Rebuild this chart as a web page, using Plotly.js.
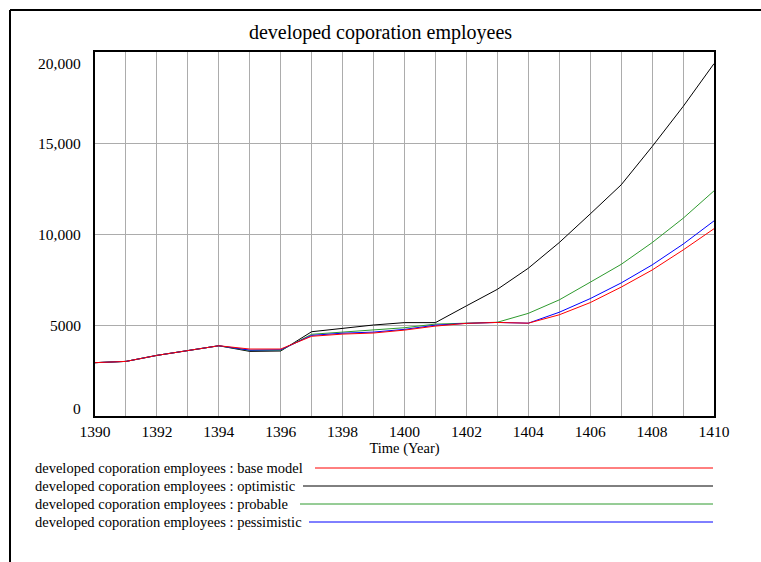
<!DOCTYPE html>
<html>
<head>
<meta charset="utf-8">
<script src="https://cdn.plot.ly/plotly-3.0.1.min.js"></script>
<style>html,body{margin:0;padding:0;background:#fff;}#chart{width:761px;height:562px;}</style>
</head>
<body>
<div id="chart"></div>
<script>
// ---- data ----
const years = [1390,1391,1392,1393,1394,1395,1396,1397,1398,1399,1400,1401,1402,1403,1404,1405,1406,1407,1408,1409,1410];
const baseModel   = [2930,3000,3330,3610,3860,3680,3680,4380,4500,4560,4720,4940,5090,5140,5100,5560,6230,7080,8020,9120,10290];
const optimistic  = [2930,3000,3330,3610,3860,3550,3570,4630,4820,5000,5130,5130,6050,6960,8120,9530,11100,12700,14800,17000,19360];
const probable    = [2930,3000,3330,3610,3860,3600,3610,4490,4600,4720,4850,5050,5120,5150,5640,6380,7350,8330,9525,10860,12370];
const pessimistic = [2930,3000,3330,3610,3860,3620,3640,4430,4550,4610,4760,4990,5090,5140,5100,5700,6450,7310,8300,9440,10720];
const seriesNames = ["developed coporation employees : base model",
                     "developed coporation employees : optimistic",
                     "developed coporation employees : probable",
                     "developed coporation employees : pessimistic"];
const yTickVals = [0,5000,10000,15000,20000];
const yTickText = ["0","5000","10,000","15,000","20,000"];
const chartTitle = "developed coporation employees";
const xTitle = "Time (Year)";

// ---- geometry helpers (pixel -> paper) ----
const W = 761, H = 562, L = 95, R = 714, T = 52, B = 416;
const px = x => (x - L) / (R - L);
const py = y => (B - y) / (B - T);

const font = "Liberation Serif, Times New Roman, serif";
const colors = {base:"#ff0000", opt:"#000000", prob:"#2e9a2e", pess:"#0000ff"};

const traces = [
  {x: years, y: optimistic,  name: seriesNames[1], line:{color:colors.opt,  width:1}},
  {x: years, y: probable,    name: seriesNames[2], line:{color:colors.prob, width:1}},
  {x: years, y: pessimistic, name: seriesNames[3], line:{color:colors.pess, width:1}},
  {x: years, y: baseModel,   name: seriesNames[0], line:{color:colors.base, width:1}}
].map(t => Object.assign(t, {type:"scatter", mode:"lines", showlegend:false, hoverinfo:"skip"}));

const annotations = [];
const shapes = [];

// y tick labels
yTickVals.forEach((v, i) => {
  let shift = 0;
  if (i === 0) shift = 8;
  if (i === yTickVals.length - 1) shift = -11;
  annotations.push({xref:"paper", yref:"y", x: px(83), y: v, xanchor:"right", yanchor:"middle",
    text: yTickText[i], showarrow:false, yshift: shift, font:{family:font, size:15.5, color:"#000"}});
});

// custom legend
const legendRows = [
  {name: seriesNames[0], color: colors.base, y: 468, start: 315},
  {name: seriesNames[1], color: colors.opt,  y: 486, start: 303},
  {name: seriesNames[2], color: colors.prob, y: 504, start: 300},
  {name: seriesNames[3], color: colors.pess, y: 522, start: 309}
];
legendRows.forEach(r => {
  annotations.push({xref:"paper", yref:"paper", x: px(33), y: py(r.y), xanchor:"left", yanchor:"middle",
    text: r.name, showarrow:false, font:{family:font, size:14.5, color:"#000"}});
  shapes.push({type:"line", xref:"paper", yref:"paper", x0: px(r.start), x1: px(713), y0: py(r.y), y1: py(r.y),
    line:{color:r.color, width:1}});
});

// outer frame (top and left)
shapes.push({type:"line", xref:"paper", yref:"paper", x0: px(10), x1: px(761), y0: py(10), y1: py(10), line:{color:"#000", width:2}});
shapes.push({type:"line", xref:"paper", yref:"paper", x0: px(10), x1: px(10), y0: py(10), y1: py(562), line:{color:"#000", width:2}});

const layout = {
  width: W, height: H,
  margin: {l: L, r: W - R, t: T, b: H - B, pad: 0},
  paper_bgcolor: "#fff", plot_bgcolor: "#fff",
  font: {family: font, color: "#000"},
  title: {text: chartTitle, font:{family:font, size:20, color:"#000"}, xref:"container", x:0.5, xanchor:"center",
          yref:"container", y: 1 - 32/H, yanchor:"middle"},
  xaxis: {
    range: [1390, 1410], tick0: 1390, dtick: 2, ticks: "",
    showgrid: true, gridcolor: "#acacac", gridwidth: 1,
    minor: {dtick: 1, tick0: 1390, showgrid: true, gridcolor: "#acacac", gridwidth: 1},
    showline: true, mirror: true, linecolor: "#000", linewidth: 2, zeroline: false,
    tickfont: {family: font, size: 15.5, color: "#000"},
    title: {text: xTitle, font:{family:font, size:14.5, color:"#000"}, standoff: 2}
  },
  yaxis: {
    range: [0, 20000], tickvals: yTickVals, showticklabels: false, ticks: "",
    showgrid: true, gridcolor: "#acacac", gridwidth: 1,
    showline: true, mirror: true, linecolor: "#000", linewidth: 2, zeroline: false
  },
  showlegend: false,
  annotations: annotations,
  shapes: shapes
};

Plotly.newPlot("chart", traces, layout, {displayModeBar: false, staticPlot: true});
</script>
</body>
</html>
